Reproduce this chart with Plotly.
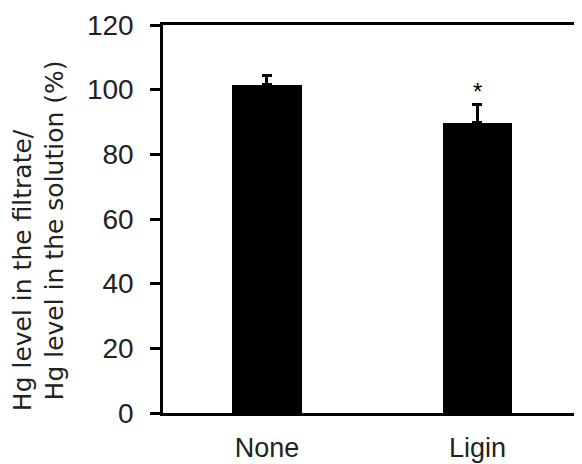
import plotly.graph_objects as go

categories = ["None", "Ligin"]
values = [101.5, 89.8]
errors = [2.8, 5.6]
y_ticks = [0, 20, 40, 60, 80, 100, 120]
sig_marks = ["", "*"]

FONT = "Liberation Sans, Arial, sans-serif"
TFONT = "DejaVu Sans, sans-serif"
x_pos = list(range(len(categories)))

fig = go.Figure()
fig.add_trace(go.Bar(
    x=x_pos, y=values, width=0.328,
    marker=dict(color="black", line=dict(width=0)),
    error_y=dict(type="data", array=errors, arrayminus=[0]*len(errors), symmetric=False,
                 color="black", thickness=3, width=5),
    showlegend=False,
))

for xi, v, e, m in zip(x_pos, values, errors, sig_marks):
    if m:
        fig.add_annotation(x=xi, y=v + e + 4.0, text=m, showarrow=False,
                           xref="x", yref="y", yanchor="middle",
                           font=dict(family=FONT, size=24, color="black"))

fig.add_annotation(xref="paper", yref="paper", x=-0.336, y=0.367,
                   text="Hg level in the filtrate/", textangle=-90, showarrow=False,
                   xanchor="center", yanchor="middle",
                   font=dict(family=TFONT, size=25, color="#222"))
fig.add_annotation(xref="paper", yref="paper", x=-0.259, y=0.470,
                   text="Hg level in the solution (%)", textangle=-90, showarrow=False,
                   xanchor="center", yanchor="middle",
                   font=dict(family=TFONT, size=25, color="#222"))

fig.add_shape(type="line", xref="paper", yref="paper", x0=0.999, x1=0.999, y0=0, y1=1,
              line=dict(color="#777", width=1))

# page body has an 8px margin, so the figure is sized 8px smaller
fig.update_layout(
    width=574, height=456,
    margin=dict(l=155, r=1, t=17, b=51, autoexpand=False),
    paper_bgcolor="white", plot_bgcolor="white",
    bargap=0,
    xaxis=dict(range=[-0.494, 1.4917], tickvals=x_pos, ticktext=categories,
               showgrid=False, zeroline=False, showline=True, linecolor="black",
               linewidth=2.5, mirror=True, ticks="", ticklabelstandoff=9,
               automargin=False,
               tickfont=dict(family=FONT, size=27, color="#222")),
    yaxis=dict(range=[0, 120], tickvals=y_ticks, showgrid=False, zeroline=False,
               showline=True, linecolor="black", linewidth=2.5,
               ticks="outside", ticklen=10, tickwidth=2.5, tickcolor="black",
               ticklabelstandoff=11, automargin=False,
               tickfont=dict(family=FONT, size=28, color="#222")),
)

fig.write_html("out.html")
